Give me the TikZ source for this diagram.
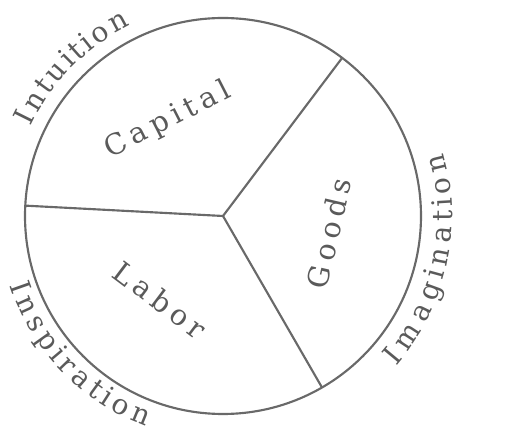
\documentclass[tikz,border=0pt]{standalone}
\usepackage{fontspec}
\usepackage{tikz}
\usetikzlibrary{calc, decorations.text}
\newfontfamily\wheelfont{DejaVu Serif}
\definecolor{inkcolor}{RGB}{105,105,105}
\definecolor{lettercolor}{RGB}{90,90,90}
\makeatletter
\newcommand\spreadword[1]{\@tfor\ch:=#1\do{\ch\hspace{0.19em}}\unskip}
\makeatother

\begin{document}
\begin{tikzpicture}[
    x=0.75pt, y=0.75pt,
    wheel/.style={circle, draw=inkcolor, line width=1.6pt, minimum size=297pt, inner sep=0pt, outer sep=0pt},
    spoke/.style={draw=inkcolor, line width=1.6pt},
    sector/.style={font=\wheelfont\fontsize{21.5}{25}\selectfont, text=lettercolor, inner sep=0pt},
    rimtext/.style={font=\wheelfont\fontsize{21}{25}\selectfont, text=lettercolor,
        decorate, decoration={text effects along path, text={#1},
        text effects/.cd, text along path, fit text to path,
        characters={font=\wheelfont\fontsize{21}{25}\selectfont, text=lettercolor}}}
]
\useasboundingbox (0,0) rectangle (519,432);

% Wheel
\coordinate (o) at (223,216);
\node[wheel] (rim) at (o) {};

% Spokes
\draw[spoke] (rim.center) -- (rim.177);
\draw[spoke] (rim.center) -- (rim.53);
\draw[spoke] (rim.center) -- (rim.-60.5);

% Sectors
\node[sector, rotate=27] (capital) at (168,312) {\spreadword{Capital}};
\node[sector, rotate=77] (goods) at (329,199) {\spreadword{Goods}};
\node[sector, rotate=-37] (labor) at (160,132) {\spreadword{Labor}};

% Outer labels
\path[rimtext=Intuition] ($(o)+(155:159pt)$) arc[start angle=155, end angle=116, radius=159pt];
\path[rimtext=Imagination] ($(o)+(-41:172pt)$) arc[start angle=-41, end angle=16, radius=172pt];
\path[rimtext=Inspiration] ($(o)+(198:168pt)$) arc[start angle=198, end angle=250, radius=168pt];

\end{tikzpicture}
\end{document}
